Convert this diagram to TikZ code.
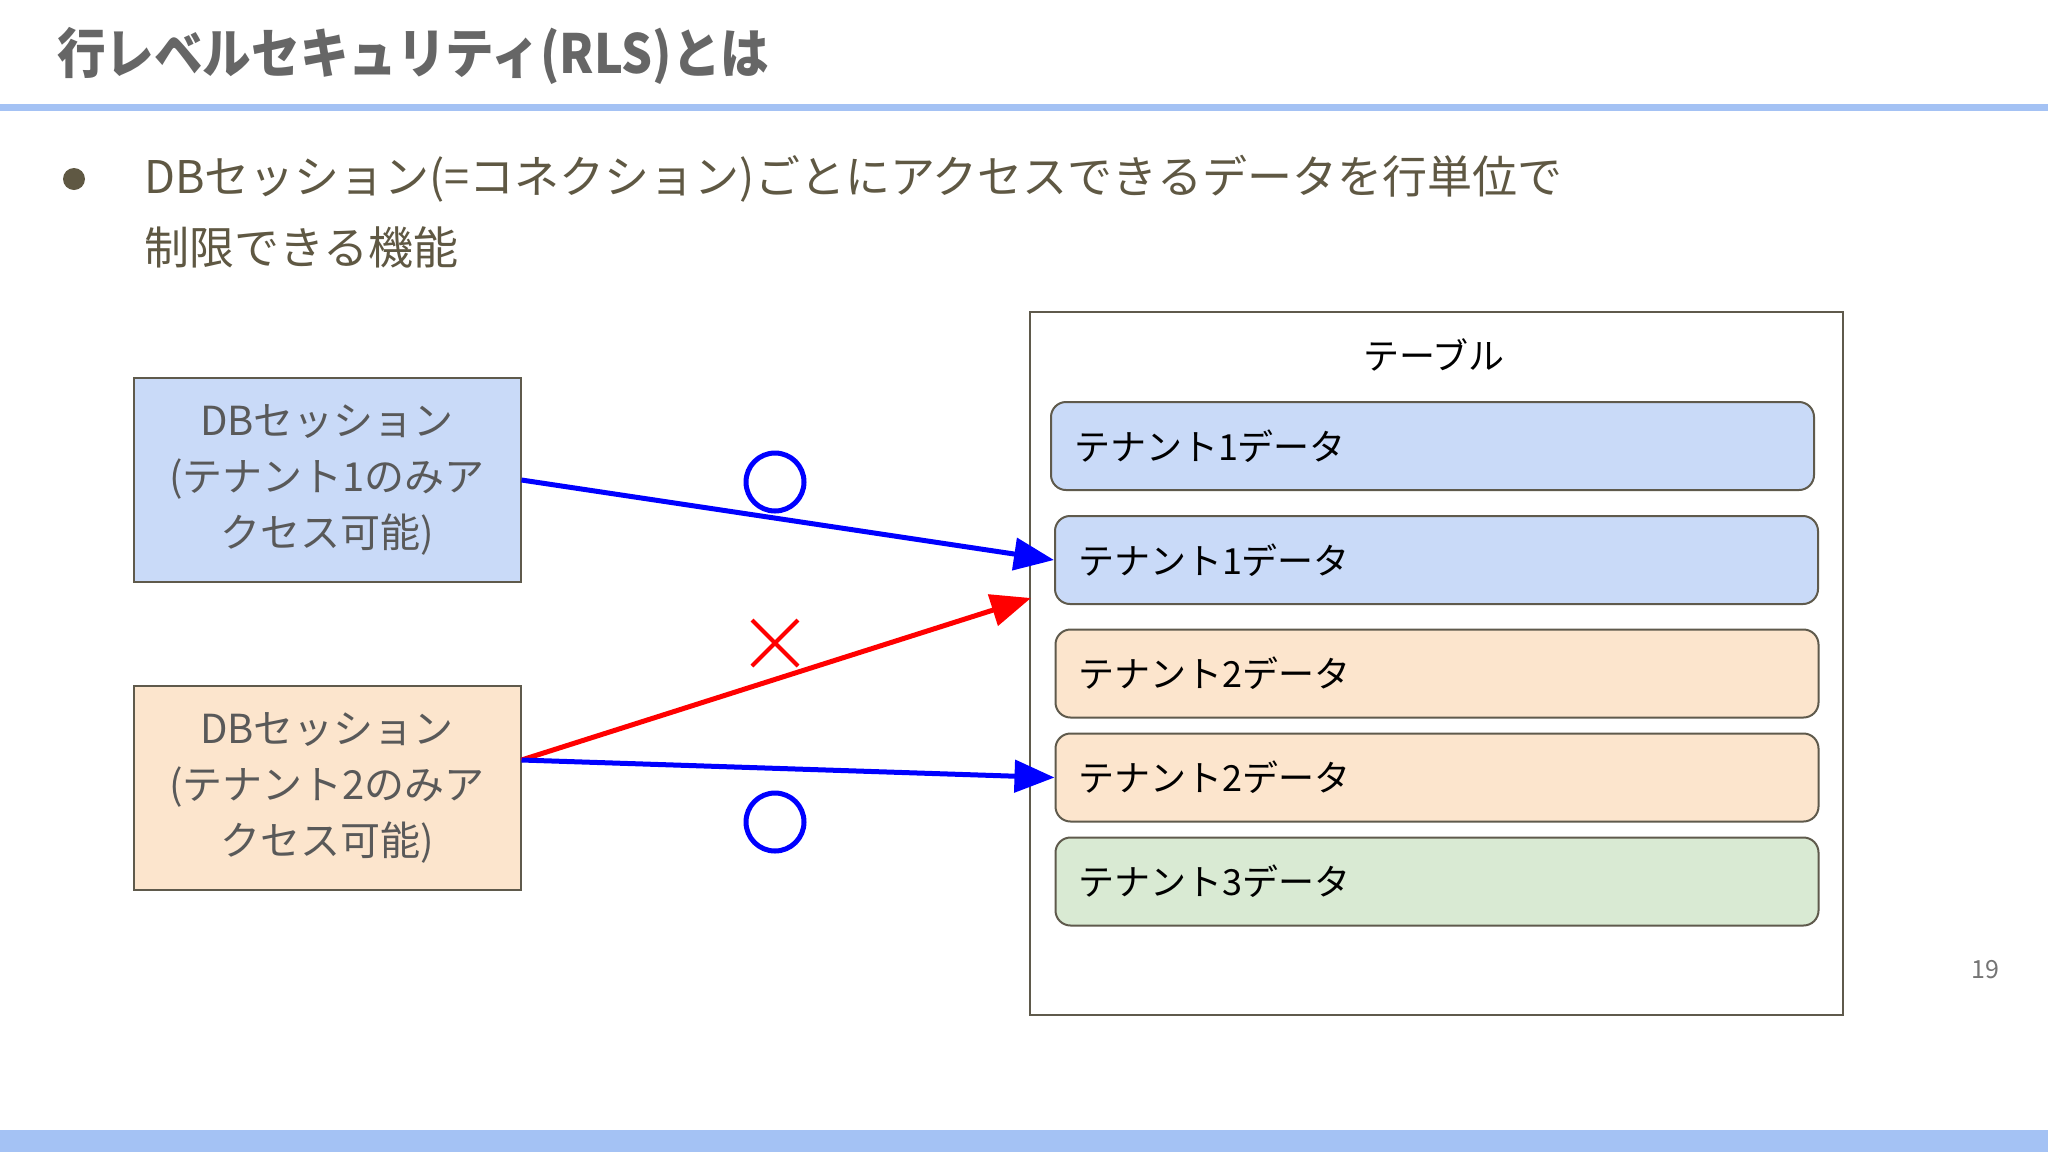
\documentclass[tikz,border=0pt]{standalone}
\usepackage{fontspec}
\setmainfont{Noto Sans CJK JP}
\newfontfamily\titlefont[FakeStretch=0.9]{Noto Sans CJK JP}
\usetikzlibrary{arrows.meta,calc}
\definecolor{titlegray}{HTML}{666666}
\definecolor{bodybrown}{HTML}{5F5843}
\definecolor{barblue}{HTML}{A4C2F4}
\definecolor{edgecol}{HTML}{5F5A4C}
\definecolor{fillblue}{HTML}{C9DAF8}
\definecolor{fillorange}{HTML}{FCE5CD}
\definecolor{fillgreen}{HTML}{D9EAD3}
\definecolor{boxtext}{HTML}{595959}
\definecolor{pagegray}{HTML}{757575}
\begin{document}
\begin{tikzpicture}[x=1pt,y=-1pt,
  session/.style={draw=edgecol, line width=2pt, minimum width=387pt, minimum height=204pt,
    align=center, text=boxtext, font=\fontsize{40}{56}\selectfont, inner sep=0pt},
  rowbox/.style={draw=edgecol, line width=2pt, rounded corners=15pt, text width=717pt,
    inner xsep=23pt, inner ysep=0pt, minimum height=88pt, align=left,
    font=\fontsize{36}{40}\selectfont},
  okarrow/.style={draw=blue, line width=5pt, -{Triangle[length=40pt,width=32pt]}},
  ngarrow/.style={draw=red, line width=5pt, -{Triangle[length=40pt,width=32pt]}},
  okmark/.style={circle, draw=blue, line width=5pt, minimum size=58pt, inner sep=0pt},
  bodytext/.style={anchor=base west, text=bodybrown, font=\fontsize{45}{50}\selectfont, inner sep=0pt}
]
\fill[white] (0,0) rectangle (2048,1152);
\useasboundingbox (0,0) rectangle (2048,1152);

% header
\node[anchor=west, text=titlegray, font=\titlefont\bfseries\fontsize{54}{60}\selectfont, inner sep=0pt]
  (title) at (57,56) {行レベルセキュリティ(RLS)とは};
\fill[barblue] (0,104) rectangle (2048,111);
\fill[barblue] (0,1130) rectangle (2048,1152);

% bullet
\fill[bodybrown] (74,179) circle (11);
\node[bodytext] (line1) at (144,193) {DBセッション(=コネクション)ごとにアクセスできるデータを行単位で};
\node[bodytext] (line2) at (144,264) {制限できる機能};

% sessions
\node[session, fill=fillblue] (b1) at (327,480) {DBセッション\\(テナント1のみア\\クセス可能)};
\node[session, fill=fillorange] (b2) at (327,788) {DBセッション\\(テナント2のみア\\クセス可能)};

% table
\node[draw=edgecol, line width=2pt, minimum width=813pt, minimum height=703pt, inner sep=0pt]
  (table) at (1436.5,663.5) {};
\node[font=\fontsize{36}{40}\selectfont, inner sep=0pt] (tlabel) at (1434,355) {テーブル};
\node[rowbox, fill=fillblue] (r1) at (1432.5,446) {テナント1データ};
\node[rowbox, fill=fillblue] (r2) at (1436.5,560) {テナント1データ};
\node[rowbox, fill=fillorange] (r3) at (1437,673.5) {テナント2データ};
\node[rowbox, fill=fillorange] (r4) at (1437,777.5) {テナント2データ};
\node[rowbox, fill=fillgreen] (r5) at (1437,881.5) {テナント3データ};

% connectors
\coordinate (b2out) at ($(b2.east)+(0,-28)$);
\coordinate (redtip) at (1031,598);
\draw[okarrow] (b1.east) -- (r2.west);
\draw[ngarrow] (b2out) -- (redtip);
\draw[okarrow] (b2out) -- (r4.west);

% marks
\node[okmark] (ok1) at (775,482) {};
\node[okmark] (ok2) at (775,822) {};
\draw[red, line width=4pt] (752,620) -- (798,666) (752,666) -- (798,620);

% page number
\node[text=pagegray, font=\fontsize{25}{30}\selectfont, inner sep=0pt] (pnum) at (1985,970) {19};
\end{tikzpicture}
\end{document}
